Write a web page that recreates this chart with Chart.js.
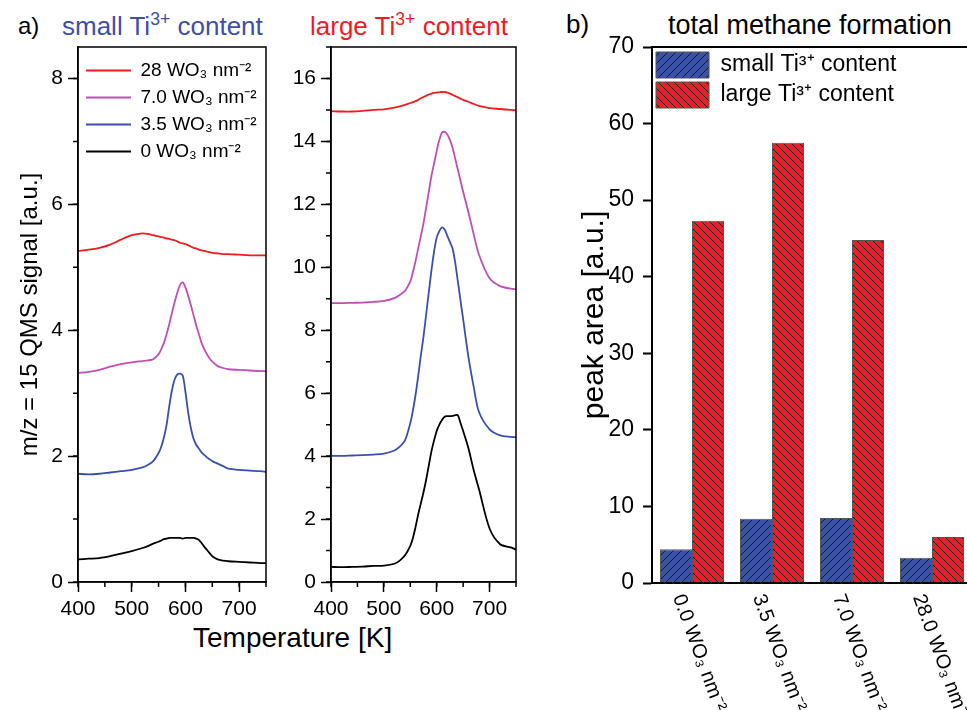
<!DOCTYPE html>
<html>
<head>
<meta charset="utf-8">
<script src="https://cdn.jsdelivr.net/npm/chart.js@4.4.1/dist/chart.umd.min.js"></script>
<style>
    body { margin: 0; width: 967px; height: 710px; overflow: hidden; background: #fff; position: relative; font-family: "Liberation Sans", Arial, sans-serif; }
    canvas { position: absolute; top: 0; }
    .lbl { position: absolute; white-space: nowrap; line-height: 1; }
    .lbl sup { font-size: 0.68em; vertical-align: 0; position: relative; top: -0.55em; }
</style>
</head>
<body>
<div class="lbl" style="left:18px; top:14px; font-size:24px;">a)</div>
<div class="lbl" style="left:62px; top:13px; font-size:26px; color:#3d4fa8;">small Ti<sup>3+</sup> content</div>
<div class="lbl" style="left:310px; top:13px; font-size:26px; color:#ee1c24;">large Ti<sup>3+</sup> content</div>
<div class="lbl" style="left:566px; top:11px; font-size:26px;">b)</div>
<div class="lbl" style="left:668px; top:12px; font-size:27px;">total methane formation</div>
<div class="lbl" style="left:193px; top:624px; font-size:28px;">Temperature [K]</div>

<canvas id="smallChart" width="280" height="710" style="left:0px;"></canvas>
<canvas id="largeChart" width="250" height="710" style="left:280px;"></canvas>
<canvas id="barChart" width="420" height="710" style="left:560px;"></canvas>

<script>
// temperature grid (K), denser around the desorption peaks
const temps = [400, 420, 440, 460, 480, 500, 520, 530, 540, 550,
    555, 560, 565, 570, 575, 580, 585, 590, 595, 600, 605, 610, 615, 620, 625, 630, 635, 640, 645, 650,
    660, 670, 680, 700, 720, 740, 750];

const seriesNames = ['28 WO₃ nm⁻²', '7.0 WO₃ nm⁻²', '3.5 WO₃ nm⁻²', '0 WO₃ nm⁻²'];
const seriesColors = ['#f21b1b', '#c04fb4', '#3a50b0', '#000000'];

// small Ti3+ content panel
const small28 = [5.26, 5.28, 5.31, 5.36, 5.44, 5.51, 5.54, 5.53, 5.51, 5.49,
    5.48, 5.47, 5.46, 5.45, 5.44, 5.43, 5.41, 5.39, 5.38, 5.37, 5.35, 5.33, 5.31, 5.30, 5.28, 5.27, 5.26, 5.25, 5.24, 5.23,
    5.22, 5.21, 5.21, 5.20, 5.19, 5.19, 5.19];
const small70 = [3.32, 3.34, 3.37, 3.42, 3.46, 3.49, 3.51, 3.52, 3.54, 3.62,
    3.70, 3.80, 3.94, 4.10, 4.28, 4.45, 4.60, 4.72, 4.76, 4.68, 4.55, 4.40, 4.24, 4.08, 3.94, 3.80, 3.70, 3.62, 3.55, 3.50,
    3.43, 3.40, 3.38, 3.37, 3.36, 3.35, 3.35];
const small35 = [1.72, 1.71, 1.72, 1.74, 1.76, 1.78, 1.82, 1.86, 1.92, 2.05,
    2.15, 2.30, 2.50, 2.80, 3.05, 3.22, 3.30, 3.31, 3.28, 3.02, 2.70, 2.45, 2.28, 2.18, 2.12, 2.06, 2.02, 1.98, 1.95, 1.92,
    1.88, 1.84, 1.80, 1.78, 1.77, 1.76, 1.75];
const small0 = [0.36, 0.37, 0.38, 0.41, 0.45, 0.49, 0.54, 0.57, 0.61, 0.64,
    0.66, 0.68, 0.69, 0.70, 0.70, 0.70, 0.70, 0.70, 0.69, 0.70, 0.70, 0.70, 0.70, 0.69, 0.67, 0.62, 0.56, 0.51, 0.46, 0.41,
    0.36, 0.34, 0.33, 0.32, 0.31, 0.30, 0.30];

// large Ti3+ content panel
const large28 = [14.96, 14.95, 14.95, 14.97, 15.00, 15.02, 15.07, 15.11, 15.16, 15.22,
    15.25, 15.28, 15.32, 15.37, 15.41, 15.45, 15.49, 15.52, 15.54, 15.55, 15.56, 15.57, 15.57, 15.55, 15.52, 15.48, 15.44, 15.40, 15.36, 15.32,
    15.26, 15.19, 15.13, 15.06, 15.03, 15.00, 14.99];
const large70 = [8.86, 8.86, 8.87, 8.88, 8.90, 8.93, 9.02, 9.12, 9.25, 9.55,
    9.85, 10.2, 10.6, 11.0, 11.4, 11.9, 12.4, 12.9, 13.3, 13.7, 14.05, 14.28, 14.30, 14.22, 14.05, 13.8, 13.45, 13.1, 12.75, 12.4,
    11.75, 11.05, 10.4, 9.65, 9.40, 9.32, 9.30];
const large35 = [4.01, 4.01, 4.02, 4.03, 4.05, 4.08, 4.18, 4.30, 4.50, 5.05,
    5.45, 5.95, 6.55, 7.2, 7.8, 8.5, 9.2, 9.9, 10.5, 10.95, 11.15, 11.27, 11.20, 11.0, 10.8, 10.6, 10.15, 9.55, 8.95, 8.35,
    7.15, 6.2, 5.4, 4.85, 4.66, 4.61, 4.60];
const large0 = [0.48, 0.47, 0.48, 0.49, 0.51, 0.52, 0.58, 0.68, 0.85, 1.15,
    1.40, 1.75, 2.15, 2.50, 2.85, 3.25, 3.70, 4.15, 4.50, 4.80, 5.00, 5.15, 5.25, 5.27, 5.27, 5.28, 5.30, 5.30, 5.05, 4.80,
    4.25, 3.55, 2.95, 1.70, 1.20, 1.10, 1.03];

// bar panel
const loadings = ['0.0 WO₃ nm⁻²', '3.5 WO₃ nm⁻²', '7.0 WO₃ nm⁻²', '28.0 WO₃ nm⁻²'];
const smallArea = [4.4, 8.4, 8.5, 3.3];
const largeArea = [47.3, 57.5, 44.8, 6.0];

Chart.defaults.font.family = '"Liberation Sans", Arial, sans-serif';
Chart.defaults.color = '#000';

// draws a closed frame round the plot area
const framePlugin = {
    id: 'frame',
    afterDraw(chart, args, opts) {
        const { ctx, chartArea: a } = chart;
        ctx.save();
        ctx.strokeStyle = '#000';
        ctx.lineWidth = opts.width || 1.5;
        ctx.strokeRect(a.left, a.top, a.right - a.left, a.bottom - a.top);
        ctx.restore();
    }
};

// legend in 'chartArea' gets its top reset to 0, move it back inside the plot
const legendInsidePlugin = {
    id: 'legendInside',
    afterLayout(chart, args, opts) {
        const lg = chart.legend;
        if (!lg) return;
        lg.top = chart.chartArea.top + (opts.offset || 0);
        lg.bottom = chart.chartArea.bottom;
    }
};

// short minor ticks between the labelled ones
const minorTickPlugin = {
    id: 'minorTicks',
    afterDraw(chart, args, opts) {
        if (!opts.xStep && !opts.yStep) return;
        const { ctx, chartArea: a, scales } = chart;
        ctx.save();
        ctx.strokeStyle = '#000';
        ctx.lineWidth = 1.5;
        ctx.beginPath();
        if (opts.xStep) {
            for (let v = scales.x.min; v <= scales.x.max + 1e-9; v += opts.xStep) {
                const px = scales.x.getPixelForValue(v);
                ctx.moveTo(px, a.bottom);
                ctx.lineTo(px, a.bottom + opts.len);
            }
        }
        if (opts.yStep) {
            for (let v = scales.y.min; v <= scales.y.max + 1e-9; v += opts.yStep) {
                const py = scales.y.getPixelForValue(v);
                ctx.moveTo(a.left, py);
                ctx.lineTo(a.left - opts.len, py);
            }
        }
        ctx.stroke();
        ctx.restore();
    }
};

function makeLineChart(id, series, yMax, yTitle, showLegend, yWidth) {
    const datasets = series.map((vals, i) => ({
        label: seriesNames[i],
        data: temps.map((t, k) => ({ x: t, y: vals[k] })),
        borderColor: seriesColors[i],
        backgroundColor: seriesColors[i],
        borderWidth: 1.8,
        pointRadius: 0,
        tension: 0.3,
        fill: false
    }));

    return new Chart(document.getElementById(id), {
        type: 'line',
        data: { datasets },
        plugins: [framePlugin, minorTickPlugin, legendInsidePlugin],
        options: {
            responsive: false,
            animation: false,
            layout: { padding: { top: 47, right: 14, left: 0, bottom: 0 } },
            plugins: {
                tooltip: { enabled: false },
                frame: { width: 1.5 },
                minorTicks: { xStep: 50, yStep: 1, len: 5 },
                legendInside: { offset: 6 },
                legend: {
                    display: showLegend,
                    position: 'chartArea',
                    align: 'start',
                    labels: {
                        usePointStyle: true,
                        pointStyle: 'line',
                        pointStyleWidth: 45,
                        boxHeight: 19,
                        padding: 8,
                        color: '#000',
                        font: { size: 19 }
                    }
                }
            },
            scales: {
                x: {
                    type: 'linear',
                    min: 400,
                    max: 750,
                    afterFit: (s) => { s.height = 128; },
                    ticks: { stepSize: 100, includeBounds: false, padding: 5, font: { size: 21 } },
                    grid: { drawOnChartArea: false, drawTicks: true, tickLength: 10, tickWidth: 1.5, tickColor: '#000' },
                    border: { display: true, color: '#000', width: 1.5 }
                },
                y: {
                    min: 0,
                    max: yMax,
                    afterFit: (s) => { s.width = yWidth; },
                    ticks: { stepSize: 2, includeBounds: false, padding: 5, font: { size: 21 } },
                    grid: { drawOnChartArea: false, drawTicks: true, tickLength: 10, tickWidth: 1.5, tickColor: '#000' },
                    border: { display: true, color: '#000', width: 1.5 },
                    title: {
                        display: !!yTitle,
                        text: yTitle,
                        font: { size: 24 },
                        padding: { top: 16, bottom: 0 }
                    }
                }
            }
        }
    });
}

makeLineChart('smallChart', [small28, small70, small35, small0], 8.5, 'm/z = 15 QMS signal [a.u.]', true, 78);
makeLineChart('largeChart', [large28, large70, large35, large0], 17, '', false, 51);

// hatch fill for the bars
function hatch(color, forward) {
    const size = 8;
    const c = document.createElement('canvas');
    c.width = size;
    c.height = size;
    const g = c.getContext('2d');
    g.fillStyle = color;
    g.fillRect(0, 0, size, size);
    g.strokeStyle = '#1a1a1a';
    g.lineWidth = 1;
    g.beginPath();
    if (forward) {
        g.moveTo(-1, size + 1); g.lineTo(size + 1, -1);
        g.moveTo(-1, 1); g.lineTo(1, -1);
        g.moveTo(size - 1, size + 1); g.lineTo(size + 1, size - 1);
    } else {
        g.moveTo(-1, -1); g.lineTo(size + 1, size + 1);
        g.moveTo(size - 1, -1); g.lineTo(size + 1, 1);
        g.moveTo(-1, size - 1); g.lineTo(1, size + 1);
    }
    g.stroke();
    return g.createPattern(c, 'repeat');
}

// rotated category labels, starting at each group and running down to the right
const slantLabelPlugin = {
    id: 'slantLabels',
    afterDraw(chart) {
        const { ctx, chartArea: a, scales } = chart;
        ctx.save();
        ctx.fillStyle = '#000';
        ctx.font = '20px "Liberation Sans", Arial, sans-serif';
        ctx.textAlign = 'left';
        ctx.textBaseline = 'middle';
        loadings.forEach((label, i) => {
            const px = scales.x.getPixelForValue(i);
            ctx.save();
            ctx.translate(px - 14, a.bottom + 12);
            ctx.rotate(70 * Math.PI / 180);
            ctx.fillText(label, 0, 0);
            ctx.restore();
        });
        ctx.restore();
    }
};

const barCtx = document.getElementById('barChart').getContext('2d');
new Chart(barCtx, {
    type: 'bar',
    data: {
        labels: loadings,
        datasets: [
            {
                label: 'small Ti³⁺ content',
                data: smallArea,
                backgroundColor: hatch('#3953a4', true),
                borderColor: '#555',
                borderWidth: 1
            },
            {
                label: 'large Ti³⁺ content',
                data: largeArea,
                backgroundColor: hatch('#ee1c24', false),
                borderColor: '#555',
                borderWidth: 1
            }
        ]
    },
    plugins: [framePlugin, slantLabelPlugin, legendInsidePlugin],
    options: {
        responsive: false,
        animation: false,
        layout: { padding: { top: 47, right: 8, left: 0, bottom: 0 } },
        datasets: { bar: { categoryPercentage: 0.8, barPercentage: 1.0 } },
        plugins: {
            tooltip: { enabled: false },
            frame: { width: 2 },
            legendInside: { offset: 1 },
            legend: {
                position: 'chartArea',
                align: 'start',
                labels: {
                    boxWidth: 53,
                    boxHeight: 26,
                    padding: 4,
                    color: '#000',
                    font: { size: 23 }
                }
            }
        },
        scales: {
            x: {
                afterFit: (s) => { s.height = 127; },
                ticks: { display: false },
                grid: { display: false },
                border: { display: true, color: '#000', width: 2 }
            },
            y: {
                min: 0,
                max: 70,
                afterFit: (s) => { s.width = 92; },
                ticks: { stepSize: 10, padding: 9, font: { size: 23 } },
                grid: { drawOnChartArea: false, drawTicks: true, tickLength: 9, tickWidth: 2, tickColor: '#000' },
                border: { display: true, color: '#000', width: 2 },
                title: {
                    display: true,
                    text: 'peak area [a.u.]',
                    font: { size: 30 },
                    padding: { top: 17, bottom: 0 }
                }
            }
        }
    }
});
</script>
</body>
</html>
